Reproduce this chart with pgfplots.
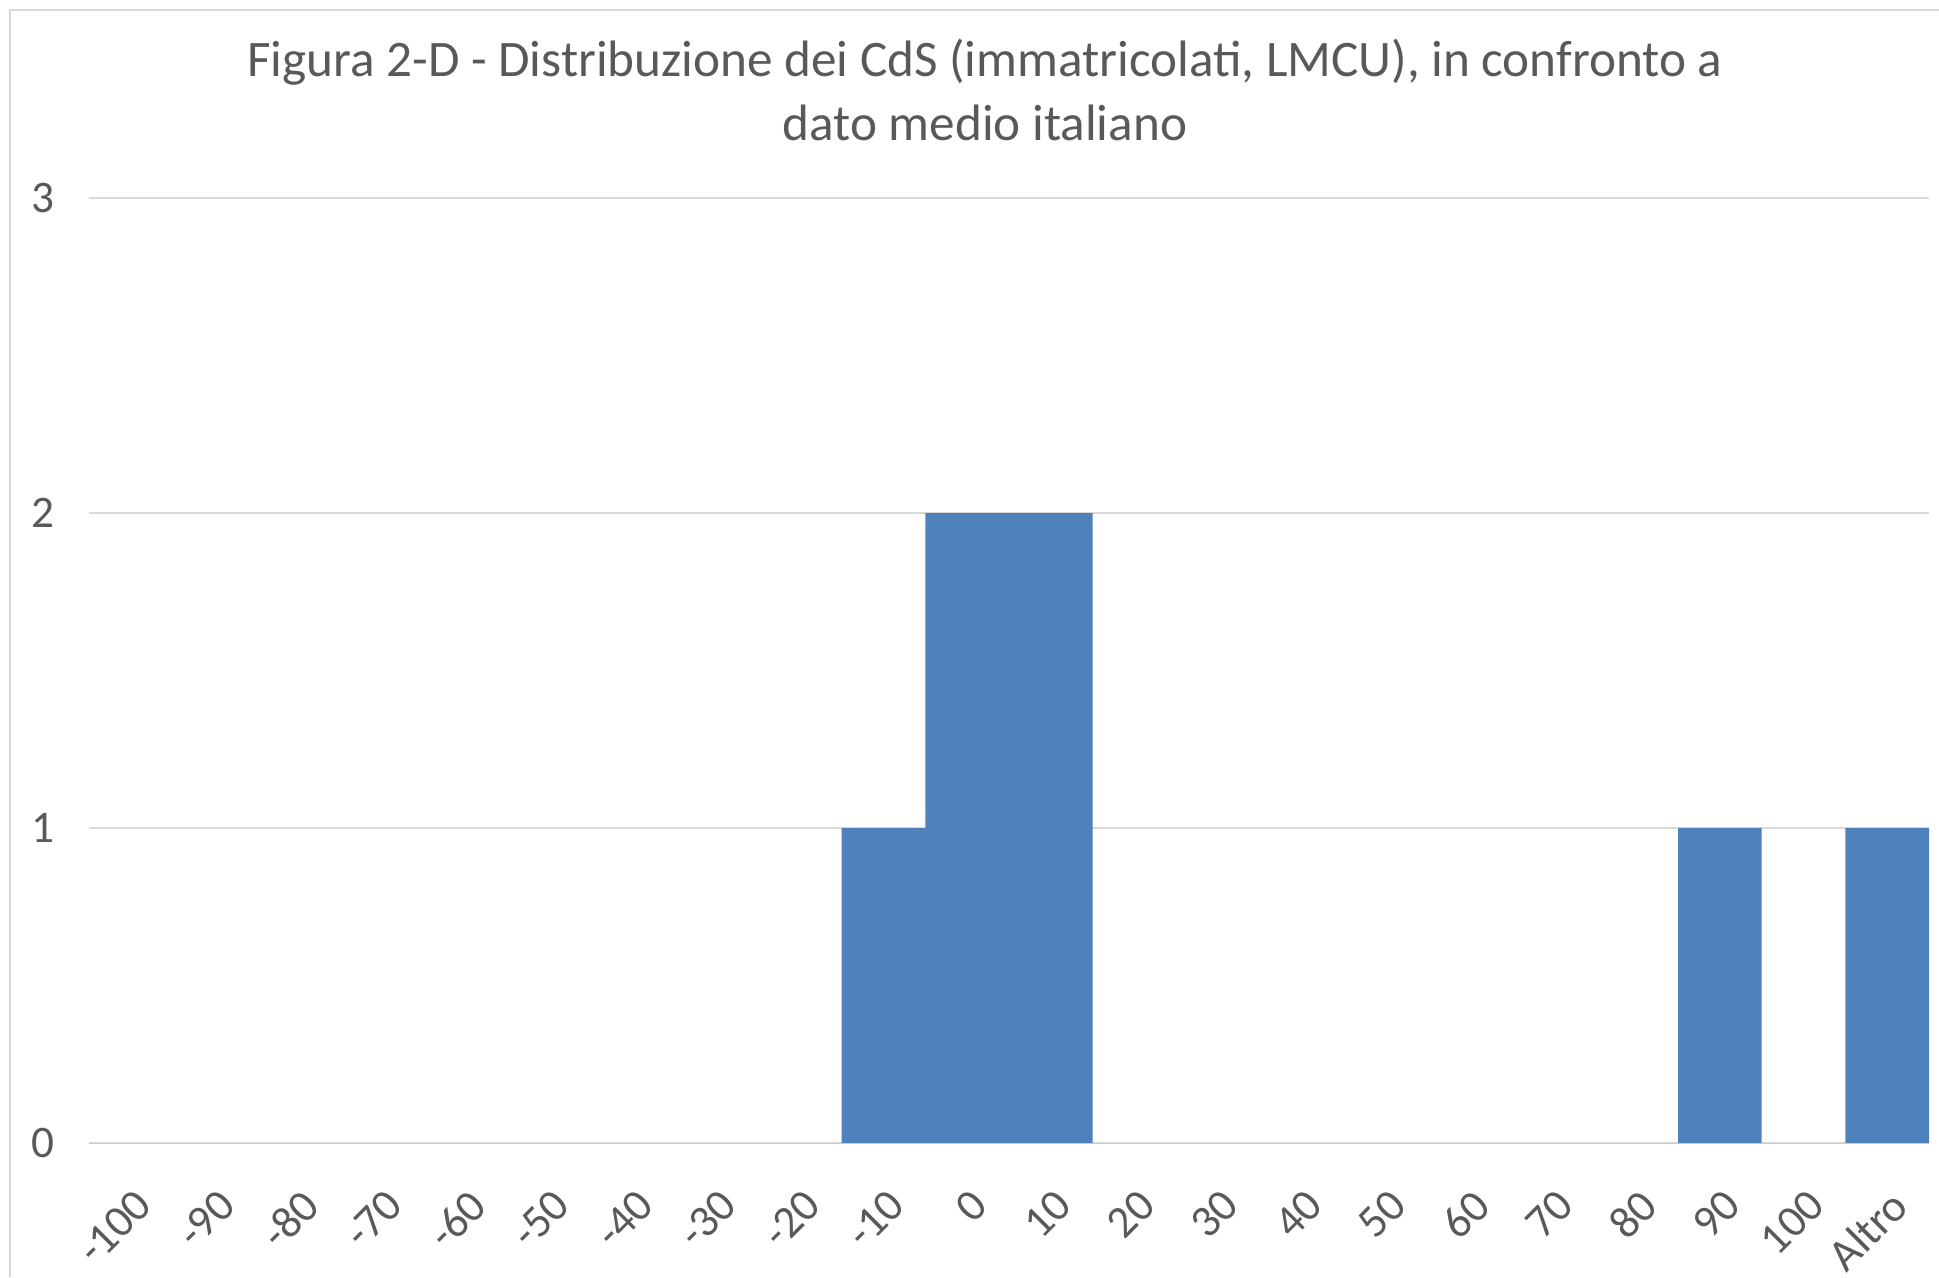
\documentclass[border=0pt]{standalone}
\usepackage{pgfplots}
\pgfplotsset{compat=1.18}
\usepackage{fontspec}
\setmainfont{Carlito}
\definecolor{barblue}{HTML}{4F81BD}
\definecolor{gridgray}{HTML}{D9D9D9}
\definecolor{txtgray}{HTML}{595959}
\begin{document}
\begin{tikzpicture}[x=1pt,y=1pt]
\useasboundingbox (0,0) rectangle (484.75,319.25);
\draw[gridgray,line width=0.6pt] (2.5,0) -- (2.5,316.75) -- (484.75,316.75);
\node[text=txtgray,font=\fontsize{12.8}{15.8}\selectfont,align=center,anchor=base] at (246.25,284.2) {Figura 2-D - Distribuzione dei CdS (immatricolati, LMCU), in confronto a\\dato medio italiano};
\begin{axis}[
  at={(22.25pt,33.5pt)}, anchor=south west,
  scale only axis, width=460pt, height=236.25pt,
  xmin=-0.5, xmax=21.5, ymin=0, ymax=3,
  ytick={0,1,2,3},
  xtick={0,...,21},
  xticklabels={-100,-90,-80,-70,-60,-50,-40,-30,-20,-10,0,10,20,30,40,50,60,70,80,90,100,Altro},
  ymajorgrids, grid style={gridgray,line width=0.6pt},
  axis line style={draw=none},
  major tick style={draw=none},
  ticklabel style={text=txtgray,font=\fontsize{11.3}{13}\selectfont},
  yticklabel style={xshift=-5pt},
  xticklabel style={rotate=45,anchor=east,yshift=-12pt,xshift=-4pt},
  /pgf/number format/assume math mode=true,
  clip=false,
]
\addplot[ybar, bar width=1, fill=barblue, draw=none] coordinates {
(0,0) (1,0) (2,0) (3,0) (4,0) (5,0) (6,0) (7,0) (8,0) (9,1) (10,2) (11,2) (12,0) (13,0) (14,0) (15,0) (16,0) (17,0) (18,0) (19,1) (20,0) (21,1)
};
\end{axis}
\end{tikzpicture}
\end{document}
